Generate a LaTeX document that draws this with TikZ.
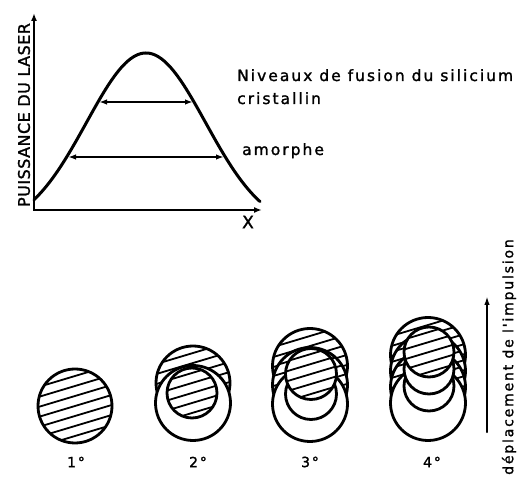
\documentclass[tikz,border=0pt]{standalone}
\usepackage{fontspec}
\setmainfont{DejaVu Sans}
\newfontfamily\letters[LetterSpace=13, FakeBold=1.5]{DejaVu Sans}
\newfontfamily\capletters[LetterSpace=3, FakeBold=1.5]{DejaVu Sans}
\usetikzlibrary{arrows.meta, positioning, calc}

\begin{document}
\begin{tikzpicture}[x=1pt, y=-1pt, line cap=round,
    axis/.style={line width=2.8pt},
    curve/.style={line width=3pt},
    level/.style={line width=1.6pt, {Latex[length=8pt,width=5.5pt]}-{Latex[length=8pt,width=5.5pt]}},
    ring/.style={line width=2.8pt},
    hatchline/.style={line width=1.8pt},
    hatched/.style={fill=white, path picture={
        \foreach \k in {-6,...,6}
          \draw[hatchline] ($(path picture bounding box.center)+(-60pt,\k*10pt-18pt)$) -- ++(120pt,36pt);}},
    label/.style={font=\letters\fontsize{15.5}{18}\selectfont, inner sep=0pt},
    numlabel/.style={font=\letters\fontsize{14}{16}\selectfont, inner sep=0pt}]

    \useasboundingbox (0,0) rectangle (520,478);

    % Axes
    \coordinate (ytop) at (34,13);
    \coordinate (origin) at (34,210);
    \coordinate (xend) at (262,210);
    \draw[axis, {Latex[length=8pt,width=6pt]}-{Latex[length=8pt,width=6pt]}] (ytop) -- (origin) -- (xend);
    \node[font=\capletters\fontsize{16}{18}\selectfont, rotate=90, inner sep=0pt] (puissance) at (24,115) {PUISSANCE DU LASER};
    \node[font=\capletters\fontsize{17}{18}\selectfont, inner sep=0pt] (xlab) at (248,222) {X};

    % Laser profile
    \draw[curve] plot[domain=34:260, samples=90] (\x, {230-177*exp(-((\x-146)/59.6)^2/2)});

    % Melting levels
    \coordinate (cristL) at (99,102);
    \coordinate (cristR) at (193,102);
    \coordinate (amorL) at (68,157);
    \coordinate (amorR) at (224,157);
    \draw[level] (cristL) -- (cristR);
    \draw[level] (amorL) -- (amorR);
    \node[label, anchor=base west] (niveaux) at (237,81) {Niveaux de fusion du silicium};
    \node[label, anchor=base west] (cristallin) at (237,104) {cristallin};
    \node[label, anchor=base west] (amorphe) at (242,155) {amorphe};

    % 1st pulse
    \draw[ring, hatched] (75,406) circle (37);

    % 2nd pulse
    \draw[ring, hatched] (193,383) circle (37);
    \draw[ring, fill=white] (193,403) circle (37.5);
    \draw[ring, hatched] (192,393) circle (25);

    % 3rd pulse
    \draw[ring, hatched] (310,366) circle (37.5);
    \draw[ring, hatched] (310,385) circle (37.5);
    \draw[ring, fill=white] (310,404) circle (37.5);
    \draw[ring, fill=white] (311,394) circle (25.5);
    \draw[ring, hatched] (311,374) circle (25.5);

    % 4th pulse
    \draw[ring, hatched] (428,355) circle (37.5);
    \draw[ring, hatched] (428,371) circle (37.5);
    \draw[ring, hatched] (428,387) circle (37.5);
    \draw[ring, fill=white] (428,403) circle (37.5);
    \draw[ring, fill=white] (429,386) circle (25);
    \draw[ring, fill=white] (429,369) circle (25);
    \draw[ring, hatched] (429,352) circle (25);

    % Pulse numbers
    \node[numlabel] (n1) at (76,462) {1°};
    \node[numlabel] (n2) at (198,462) {2°};
    \node[numlabel] (n3) at (310,462) {3°};
    \node[numlabel] (n4) at (432,462) {4°};

    % Displacement
    \coordinate (dbot) at (487,432);
    \coordinate (dtop) at (487,296);
    \draw[line width=2.2pt, -{Latex[length=9pt,width=5.5pt]}] (dbot) -- (dtop);
    \node[font=\letters\fontsize{14}{16}\selectfont, rotate=90, inner sep=0pt] (deplacement) at (509,357) {déplacement de l'impulsion};

\end{tikzpicture}
\end{document}
